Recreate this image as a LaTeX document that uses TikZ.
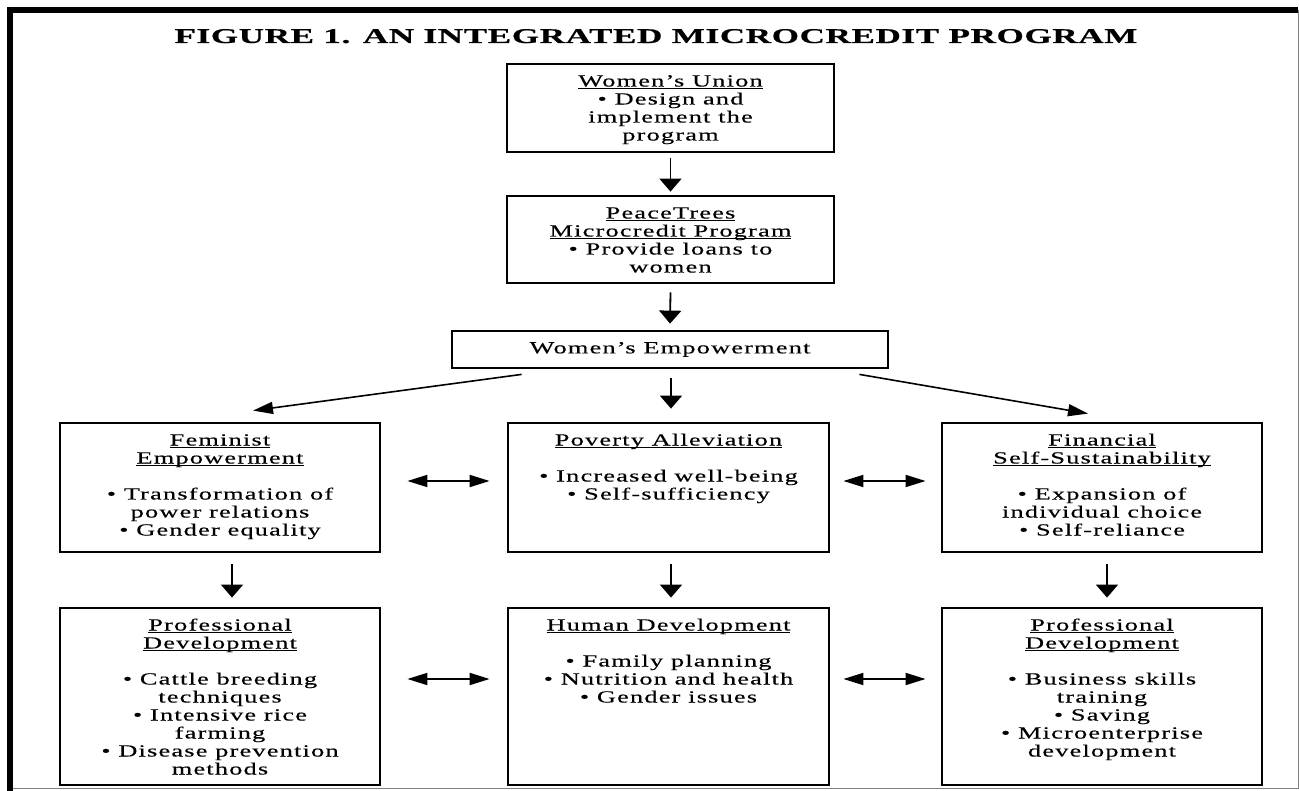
\documentclass[tikz,border=0pt]{standalone}
\usepackage{fontspec}
\setmainfont{Liberation Serif}[FakeStretch=1.55,LetterSpace=7,FakeBold=0.3]
\newfontfamily\titlefont{Liberation Serif}[FakeStretch=1.67,LetterSpace=3,FakeBold=0.6]
\usetikzlibrary{arrows.meta}

\newcommand{\headul}[1]{\leavevmode\setbox0=\hbox{#1}\rlap{\rule[-2.6pt]{\wd0}{0.9pt}}\box0}
\newcommand{\boxtext}[3]{\parbox[c][#2][t]{#1}{\centering\rule{0pt}{22.5pt}#3}}

\begin{document}
\begin{tikzpicture}[x=1pt,y=-1pt,
			font=\fontsize{17}{18}\selectfont,
			box/.style={draw,line width=2.8pt,inner sep=0pt},
			arr/.style={line width=1.8pt,-{Triangle[length=13pt,width=22pt]}},
			slant/.style={line width=1.6pt,-{Triangle[length=20pt,width=12pt]}},
			biarr/.style={line width=1.8pt,{Triangle[length=20pt,width=12pt]}-{Triangle[length=20pt,width=12pt]}}]
			\useasboundingbox (0,0) rectangle (1299,791);
			% frame
			\draw[line width=6pt] (10,791) -- (10,10) -- (1298,10);
			\draw[gray,line width=1pt] (1298,10) -- (1298,788) -- (13,788);
			\node[anchor=base] (title) at (656,43) {\titlefont\fontsize{21}{22}\selectfont\bfseries FIGURE 1. AN INTEGRATED MICROCREDIT PROGRAM};
			% top chain
			\node[box] (union) at (670.5,108) {\boxtext{327pt}{88pt}{\headul{Women’s Union}\\ • Design and\\ implement the\\ program}};
			\node[box] (peace) at (670.5,239.5) {\boxtext{327pt}{87pt}{\headul{PeaceTrees}\\ \headul{Microcredit Program}\\ • Provide loans to\\ women}};
			\node[box,minimum width=436pt,minimum height=37pt] (empower) at (670,349.5) {Women’s Empowerment};
			% middle row
			\node[box] (feminist) at (220,487.5) {\boxtext{320pt}{129pt}{\headul{Feminist}\\ \headul{Empowerment}\\[18pt] • Transformation of\\ power relations\\ • Gender equality}};
			\node[box] (poverty) at (668.5,487.5) {\boxtext{321pt}{129pt}{\headul{Poverty Alleviation}\\[18pt] • Increased well-being\\ • Self-sufficiency}};
			\node[box] (financial) at (1102,487.5) {\boxtext{320pt}{129pt}{\headul{Financial}\\ \headul{Self-Sustainability}\\[18pt] • Expansion of\\ individual choice\\ • Self-reliance}};
			% bottom row
			\node[box] (profleft) at (220,696.5) {\boxtext{320pt}{177pt}{\headul{Professional}\\ \headul{Development}\\[18pt] • Cattle breeding\\ techniques\\ • Intensive rice\\ farming\\ • Disease prevention\\ methods}};
			\node[box] (human) at (668.5,696.5) {\boxtext{321pt}{177pt}{\headul{Human Development}\\[18pt] • Family planning\\ • Nutrition and health\\ • Gender issues}};
			\node[box] (profright) at (1102,696.5) {\boxtext{320pt}{177pt}{\headul{Professional}\\ \headul{Development}\\[18pt] • Business skills\\ training\\ • Saving\\ • Microenterprise\\ development}};
			% arrows
			\draw[arr] ([yshift=-5pt]union.south) -- ([yshift=3pt]peace.north);
			\draw[arr] ([yshift=-8pt]peace.south) -- ([yshift=6pt]empower.north);
			\draw[arr] ([xshift=1pt,yshift=-9pt]empower.south) -- ([xshift=2.5pt,yshift=13pt]poverty.north);
			\draw[slant] ([xshift=71pt,yshift=-5pt]empower.south west) -- ([xshift=33pt,yshift=11pt]feminist.north);
			\draw[slant] ([xshift=-30pt,yshift=-5pt]empower.south east) -- ([xshift=-14pt,yshift=8pt]financial.north);
			\draw[arr] ([xshift=12pt,yshift=-11pt]feminist.south) -- ([xshift=12pt,yshift=9pt]profleft.north);
			\draw[arr] ([xshift=2.5pt,yshift=-11pt]poverty.south) -- ([xshift=2.5pt,yshift=9pt]human.north);
			\draw[arr] ([xshift=5pt,yshift=-11pt]financial.south) -- ([xshift=5pt,yshift=9pt]profright.north);
			\draw[biarr] ([xshift=26pt,yshift=6.5pt]feminist.east) -- ([xshift=-17pt,yshift=6.5pt]poverty.west);
			\draw[biarr] ([xshift=13pt,yshift=6.5pt]poverty.east) -- ([xshift=-15pt,yshift=6.5pt]financial.west);
			\draw[biarr] ([xshift=26pt,yshift=17.5pt]profleft.east) -- ([xshift=-17pt,yshift=17.5pt]human.west);
			\draw[biarr] ([xshift=13pt,yshift=17.5pt]human.east) -- ([xshift=-15pt,yshift=17.5pt]profright.west);
			\end{tikzpicture}
\end{document}
